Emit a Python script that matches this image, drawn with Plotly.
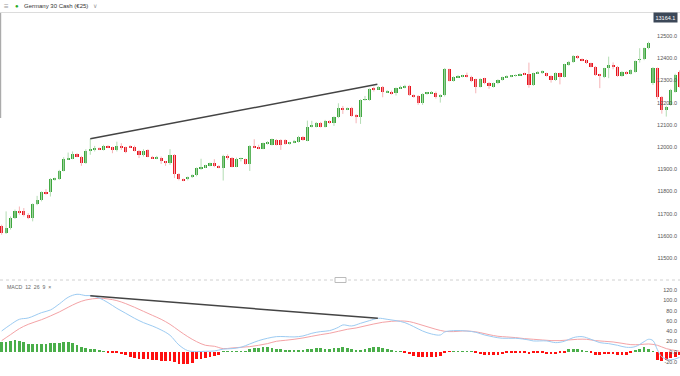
import plotly.graph_objects as go

# ---------------- data ----------------
OPEN = [11645, 11612, 11635, 11680, 11713, 11710, 11695, 11680, 11743, 11760,
        11797, 11797, 11852, 11855, 11893, 11945, 11947, 11968, 11957, 11930,
        11984, 11990, 11994, 11987, 12005, 11998, 11987, 12005, 11998, 12005,
        12002, 11983, 11965, 11987, 11957, 11950, 11952, 11935, 11930, 11965,
        11879, 11855, 11855, 11864, 11872, 11903, 11909, 11915, 11927, 11915,
        11907, 11961, 11952, 11912, 11946, 11945, 11924, 12005, 11999, 11993,
        12014, 12010, 12032, 12032, 12032, 12014, 12020, 12024, 12047, 12029,
        12092, 12092, 12110, 12092, 12115, 12110, 12134, 12174, 12170, 12177,
        12144, 12137, 12212, 12212, 12264, 12261, 12272, 12246, 12250, 12242,
        12264, 12267, 12276, 12234, 12230, 12197, 12239, 12243, 12245, 12224,
        12234, 12350, 12299, 12315, 12317, 12324, 12317, 12305, 12272, 12309,
        12290, 12272, 12287, 12302, 12314, 12317, 12320, 12324, 12332, 12327,
        12279, 12332, 12332, 12332, 12320, 12302, 12332, 12317, 12370, 12383,
        12411, 12396, 12392, 12377, 12362, 12327, 12317, 12354, 12369, 12362,
        12320, 12339, 12329, 12339, 12392, 12395, 12444, 12289, 12355, 12227,
        12167, 12190, 12250, 12340]
HIGH = [11650, 11710, 11687, 11718, 11732, 11725, 11702, 11746, 11780, 11800,
        11810, 11860, 11862, 11897, 11954, 11975, 11980, 11972, 11960, 11990,
        12037, 12005, 11998, 12010, 12008, 12002, 12024, 12017, 12002, 12008,
        12006, 11987, 11990, 11990, 11960, 11960, 11957, 11937, 11990, 11968,
        11882, 11858, 11867, 11877, 11908, 11947, 11920, 11930, 11945, 11918,
        11965, 11967, 11955, 11952, 11952, 11948, 12008, 12035, 12010, 12020,
        12026, 12038, 12036, 12035, 12035, 12023, 12032, 12050, 12050, 12119,
        12118, 12113, 12113, 12122, 12120, 12138, 12197, 12185, 12178, 12181,
        12148, 12215, 12230, 12264, 12272, 12275, 12275, 12256, 12254, 12268,
        12276, 12280, 12280, 12237, 12234, 12242, 12248, 12252, 12250, 12238,
        12356, 12353, 12318, 12324, 12325, 12335, 12321, 12308, 12310, 12312,
        12293, 12290, 12305, 12317, 12323, 12324, 12327, 12332, 12335, 12380,
        12335, 12342, 12345, 12335, 12323, 12336, 12335, 12375, 12388, 12414,
        12414, 12399, 12395, 12380, 12365, 12330, 12357, 12407, 12381, 12365,
        12342, 12342, 12350, 12390, 12445, 12448, 12474, 12360, 12358, 12230,
        12186, 12262, 12330, 12345]
LOW = [11605, 11608, 11628, 11676, 11695, 11687, 11675, 11665, 11738, 11755,
       11785, 11777, 11848, 11852, 11890, 11942, 11945, 11954, 11915, 11924,
       11965, 11980, 11986, 11984, 11995, 11972, 11980, 11987, 11972, 11996,
       11980, 11950, 11957, 11954, 11946, 11945, 11924, 11915, 11920, 11860,
       11850, 11846, 11850, 11860, 11868, 11897, 11905, 11912, 11909, 11904,
       11849, 11942, 11908, 11909, 11935, 11920, 11892, 11995, 11990, 11990,
       12011, 12007, 12007, 11987, 12010, 12011, 12017, 12020, 12028, 12026,
       12088, 12088, 12088, 12088, 12105, 12095, 12130, 12149, 12166, 12136,
       12107, 12104, 12208, 12208, 12250, 12258, 12224, 12243, 12236, 12232,
       12262, 12264, 12230, 12222, 12190, 12190, 12236, 12240, 12218, 12200,
       12228, 12295, 12294, 12311, 12314, 12313, 12292, 12242, 12268, 12283,
       12262, 12268, 12283, 12299, 12311, 12314, 12317, 12321, 12324, 12267,
       12275, 12329, 12329, 12317, 12290, 12298, 12282, 12313, 12366, 12379,
       12396, 12386, 12374, 12359, 12320, 12265, 12310, 12310, 12350, 12316,
       12316, 12326, 12326, 12335, 12380, 12391, 12440, 12280, 12215, 12150,
       12137, 12186, 12245, 12268]
CLOSE = [11612, 11635, 11680, 11713, 11706, 11692, 11680, 11743, 11762, 11797,
         11792, 11855, 11858, 11893, 11945, 11950, 11968, 11957, 11927, 11984,
         11993, 11994, 11990, 12005, 11998, 11987, 12005, 11998, 11977, 11999,
         11983, 11965, 11984, 11957, 11950, 11957, 11935, 11930, 11965, 11879,
         11855, 11849, 11864, 11874, 11905, 11909, 11917, 11927, 11915, 11907,
         11961, 11950, 11912, 11946, 11950, 11924, 12005, 11999, 11992, 12017,
         12023, 12035, 12010, 12007, 12014, 12020, 12029, 12047, 12032, 12092,
         12097, 12110, 12092, 12115, 12109, 12134, 12174, 12170, 12174, 12140,
         12137, 12212, 12216, 12260, 12260, 12269, 12250, 12252, 12239, 12264,
         12269, 12276, 12234, 12227, 12197, 12239, 12245, 12248, 12224, 12234,
         12350, 12299, 12314, 12320, 12321, 12317, 12299, 12272, 12306, 12287,
         12275, 12287, 12302, 12314, 12320, 12321, 12324, 12329, 12327, 12279,
         12332, 12339, 12342, 12320, 12302, 12332, 12317, 12372, 12384, 12411,
         12399, 12389, 12377, 12362, 12324, 12320, 12354, 12369, 12362, 12320,
         12339, 12329, 12347, 12387, 12396, 12444, 12470, 12356, 12227, 12167,
         12182, 12257, 12325, 12272]

HIST = [19.6, 19.6, 20.9, 22.2, 20.9, 19.6, 15.1, 15.1, 15.1, 15.1,
        15.1, 16.4, 17.0, 17.7, 19.0, 19.0, 17.7, 13.8, 8.6, 7.3,
        6.0, 4.7, 2.1, 0.5, -1.0, -2.0, -3.1, -4.4, -6.4, -10.9,
        -12.9, -14.8, -14.8, -14.8, -16.1, -16.1, -17.4, -17.4, -17.4, -19.4,
        -23.9, -23.9, -23.9, -21.3, -14.8, -14.8, -12.9, -10.9, -8.3, -6.4,
        0.5, 0.5, 0.3, 0.5, 0.8, 1.0, 5.3, 6.6, 7.9, 8.6,
        8.6, 7.3, 6.0, 4.7, 3.4, 2.8, 2.1, 2.8, 3.4, 4.7,
        6.0, 7.3, 6.6, 6.0, 6.0, 6.6, 7.9, 8.6, 7.9, 4.7,
        2.1, 3.4, 4.7, 7.3, 8.6, 8.6, 7.3, 4.7, 2.1, 0.8,
        0.3, -2.0, -5.0, -9.0, -11.0, -11.0, -11.0, -11.0, -10.0, -9.0,
        -2.0, -0.5, 0.5, 0.6, 0.6, 0.5, 0.3, -3.1, -4.4, -5.7,
        -6.4, -6.4, -5.7, -4.4, -3.1, -3.1, -3.1, -3.1, -3.1, -4.4,
        -3.1, -3.1, -3.1, -4.4, -4.4, -4.4, -3.1, -1.5, 4.7, 4.7,
        4.7, 3.4, 0.8, -3.1, -5.7, -5.7, -4.4, -4.4, -4.4, -5.7,
        -5.7, -5.7, -2.0, 2.0, 5.0, 9.0, 6.0, 1.0, -16.0, -19.0,
        -16.0, -13.0, -10.0, -7.0]

MACD_X = [0, 2, 4, 6, 9, 11, 13, 15, 17, 19, 20, 22, 24, 26, 28, 30, 32, 34, 36, 38,
          40, 42, 44, 46, 48, 50, 52, 54, 56, 58, 60, 62, 64, 66, 68, 70, 72, 74, 76, 77,
          79, 81, 83, 85, 87, 89, 91, 93, 95, 97, 99, 100, 102, 105, 107, 109, 111, 113, 116, 119,
          120, 123, 125, 127, 129, 131, 133, 135, 137, 139, 141, 143, 145, 146, 147, 148, 149, 151, 153]
MACD_Y = [40.4, 52.8, 63.2, 65.8, 76.2, 81.4, 93.1, 106.1, 112.0, 109.4, 109.4, 104.8, 95.7, 84.6, 74.9, 65.1, 56.7, 50.2, 42.4, 32.0,
          13.2, 2.1, 0.2, 0.8, 1.4, 5.0, 6.0, 8.6, 15.1, 21.6, 26.2, 29.4, 29.4, 28.8, 30.7, 35.9, 39.2, 41.1, 47.6, 52.2,
          50.2, 55.4, 60.6, 65.2, 63.2, 60.6, 56.7, 48.9, 40.4, 34.6, 32.6, 38.5, 41.1, 40.4, 37.9, 32.6, 28.8, 26.2, 26.2, 22.9,
          21.0, 21.0, 17.7, 20.3, 27.4, 29.4, 24.2, 17.7, 15.8, 12.5, 8.6, 9.9, 19.6, 24.2, 21.6, 4.0, -10.0, -16.0, -11.0]
SIGNAL_X = [0, 2, 4, 6, 9, 11, 13, 15, 17, 19, 22, 24, 26, 28, 30, 32, 34, 36, 38, 40,
            42, 44, 46, 48, 50, 52, 54, 56, 58, 60, 62, 64, 66, 68, 70, 72, 74, 76, 78, 80,
            82, 84, 86, 88, 90, 92, 94, 96, 98, 100, 102, 104, 106, 108, 110, 112, 114, 116, 118, 120,
            122, 124, 126, 128, 130, 132, 134, 136, 138, 140, 142, 144, 146, 148, 150, 153]
SIGNAL_Y = [21.6, 33.3, 45.0, 53.4, 62.5, 69.7, 77.5, 86.6, 95.0, 100.9, 104.2, 102.9, 99.6, 93.8, 86.6, 78.8, 71.0, 63.2, 53.4, 41.1,
            29.4, 19.6, 12.5, 10.6, 6.0, 7.3, 8.6, 9.9, 12.5, 15.8, 20.3, 22.2, 24.2, 26.8, 30.1, 33.3, 35.9, 39.8, 43.7, 46.3,
            50.2, 54.1, 57.4, 59.3, 60.0, 58.7, 54.1, 48.9, 43.7, 39.8, 39.2, 40.4, 39.8, 37.2, 33.3, 30.1, 28.8, 27.5, 25.5, 24.2,
            22.9, 21.6, 21.6, 22.9, 24.2, 24.2, 21.6, 20.3, 19.0, 16.4, 13.8, 13.8, 15.1, 12.5, 6.0, 1.0]

TREND_PRICE_X = [20, 84.8]
TREND_PRICE_Y = [12037, 12283]
TREND_MACD_X = [20, 84.9]
TREND_MACD_Y = [109, 65]

PRICE_TICKS = [11500, 11600, 11700, 11800, 11900, 12000, 12100, 12200, 12300, 12400, 12500]
MACD_TICKS = [-20, 0, 20, 40, 60, 80, 100, 120]
LAST_PRICE = "13164.1"
TITLE = "Germany 30 Cash (€25)"
MACD_LABEL = "MACD  12  26  9  ×"

# ---------------- styling ----------------
W, H = 680, 376
UP, DOWN = "#3ca63c", "#e8141e"
UP_WICK, DOWN_WICK = "#b3dcb3", "#f5b3b6"
HIST_UP, HIST_DOWN = "#4aae4a", "#ff1010"
FONT = "Liberation Sans, Arial, sans-serif"

def py(pix):  # pixel row -> paper fraction
    return 1 - pix / H

idx = list(range(len(OPEN)))
up = [c >= o for o, c in zip(OPEN, CLOSE)]

fig = go.Figure()

def wick_trace(flag, color):
    xs, ys = [], []
    for i in idx:
        if up[i] == flag:
            xs += [i, i, None]
            ys += [LOW[i], HIGH[i], None]
    return go.Scatter(x=xs, y=ys, mode="lines", line=dict(color=color, width=1),
                      yaxis="y", hoverinfo="skip")

fig.add_trace(wick_trace(True, UP_WICK))
fig.add_trace(wick_trace(False, DOWN_WICK))

for flag, color in [(True, UP), (False, DOWN)]:
    xs = [i for i in idx if up[i] == flag]
    fig.add_trace(go.Bar(
        x=xs,
        y=[abs(CLOSE[i] - OPEN[i]) for i in xs],
        base=[min(OPEN[i], CLOSE[i]) for i in xs],
        width=0.72, marker=dict(color=color, line=dict(width=0)), yaxis="y"))

fig.add_trace(go.Scatter(x=TREND_PRICE_X, y=TREND_PRICE_Y, mode="lines",
                         line=dict(color="#444444", width=1.5), yaxis="y"))

# MACD pane
for flag, color in [(True, HIST_UP), (False, HIST_DOWN)]:
    xs = [i for i in idx if (HIST[i] >= 0) == flag]
    fig.add_trace(go.Bar(x=xs, y=[HIST[i] for i in xs], width=0.62,
                         marker=dict(color=color, line=dict(width=0)), yaxis="y2"))

fig.add_trace(go.Scatter(x=SIGNAL_X, y=SIGNAL_Y, mode="lines", line=dict(color="#f4a3a6", width=1),
                         line_shape="spline", yaxis="y2"))
fig.add_trace(go.Scatter(x=MACD_X, y=MACD_Y, mode="lines", line=dict(color="#9ccbf2", width=1),
                         line_shape="spline", yaxis="y2"))
fig.add_trace(go.Scatter(x=TREND_MACD_X, y=TREND_MACD_Y, mode="lines",
                         line=dict(color="#444444", width=1.5), yaxis="y2"))

tickfont = dict(family=FONT, size=5.5, color="#555555")
fig.update_layout(
    width=W, height=H, margin=dict(l=0, r=0, t=0, b=0),
    paper_bgcolor="white", plot_bgcolor="white", showlegend=False,
    barmode="overlay", bargap=0,
    xaxis=dict(range=[-0.377, 153.1], visible=False, anchor="y2", fixedrange=True),
    yaxis=dict(domain=[py(279), py(13)], range=[11405.4, 12603.6], side="right",
               anchor="x", ticklabelposition="inside", tickvals=PRICE_TICKS,
               ticktext=[f"{v:.1f}" for v in PRICE_TICKS], showgrid=False, zeroline=False,
               showline=False, ticks="", tickfont=tickfont),
    yaxis2=dict(domain=[0, py(281)], range=[-47.4, 137.9], side="right",
                anchor="x", ticklabelposition="inside", tickvals=MACD_TICKS,
                ticktext=[f"{v:.1f}" for v in MACD_TICKS], showgrid=False, zeroline=False,
                showline=False, ticks="", tickfont=tickfont),
    shapes=[
        dict(type="line", xref="paper", yref="paper", x0=0, x1=1, y0=py(12.5), y1=py(12.5),
             line=dict(color="#dcdcdc", width=1)),
        dict(type="line", xref="paper", yref="paper", x0=0.001, x1=0.001, y0=py(13), y1=py(118),
             line=dict(color="#9a9a9a", width=1)),
        dict(type="line", xref="paper", yref="paper", x0=0, x1=1, y0=py(280), y1=py(280),
             line=dict(color="#d0d0d0", width=1, dash="dot")),
        dict(type="rect", xref="paper", yref="paper", x0=335 / W, x1=346 / W, y0=py(282.5), y1=py(277.5),
             line=dict(color="#bbbbbb", width=1), fillcolor="white"),
    ],
    annotations=[
        dict(text="≡", x=6 / W, y=py(6.5), xref="paper", yref="paper", showarrow=False,
             xanchor="center", yanchor="middle", font=dict(family=FONT, size=8, color="#999999")),
        dict(text="●", x=17 / W, y=py(6.5), xref="paper", yref="paper", showarrow=False,
             xanchor="center", yanchor="middle", font=dict(family=FONT, size=6, color="#22aa22")),
        dict(text=TITLE, x=22 / W, y=py(6.5), xref="paper", yref="paper", showarrow=False,
             xanchor="left", yanchor="middle", font=dict(family=FONT, size=6, color="#333333")),
        dict(text="∨", x=95 / W, y=py(6.5), xref="paper", yref="paper", showarrow=False,
             xanchor="center", yanchor="middle", font=dict(family=FONT, size=5.5, color="#999999")),
        dict(text=MACD_LABEL, x=5 / W, y=py(287), xref="paper", yref="paper", showarrow=False,
             xanchor="left", yanchor="middle", font=dict(family=FONT, size=5.2, color="#666666")),
        dict(text=LAST_PRICE, x=678 / W, y=py(17.5), xref="paper", yref="paper", showarrow=False,
             xanchor="right", yanchor="middle", bgcolor="#3c4858", borderpad=1.5,
             font=dict(family=FONT, size=5.5, color="white")),
    ],
)

fig.write_html("out.html", config={"displayModeBar": False},
               post_script="document.body.style.margin='0';")
